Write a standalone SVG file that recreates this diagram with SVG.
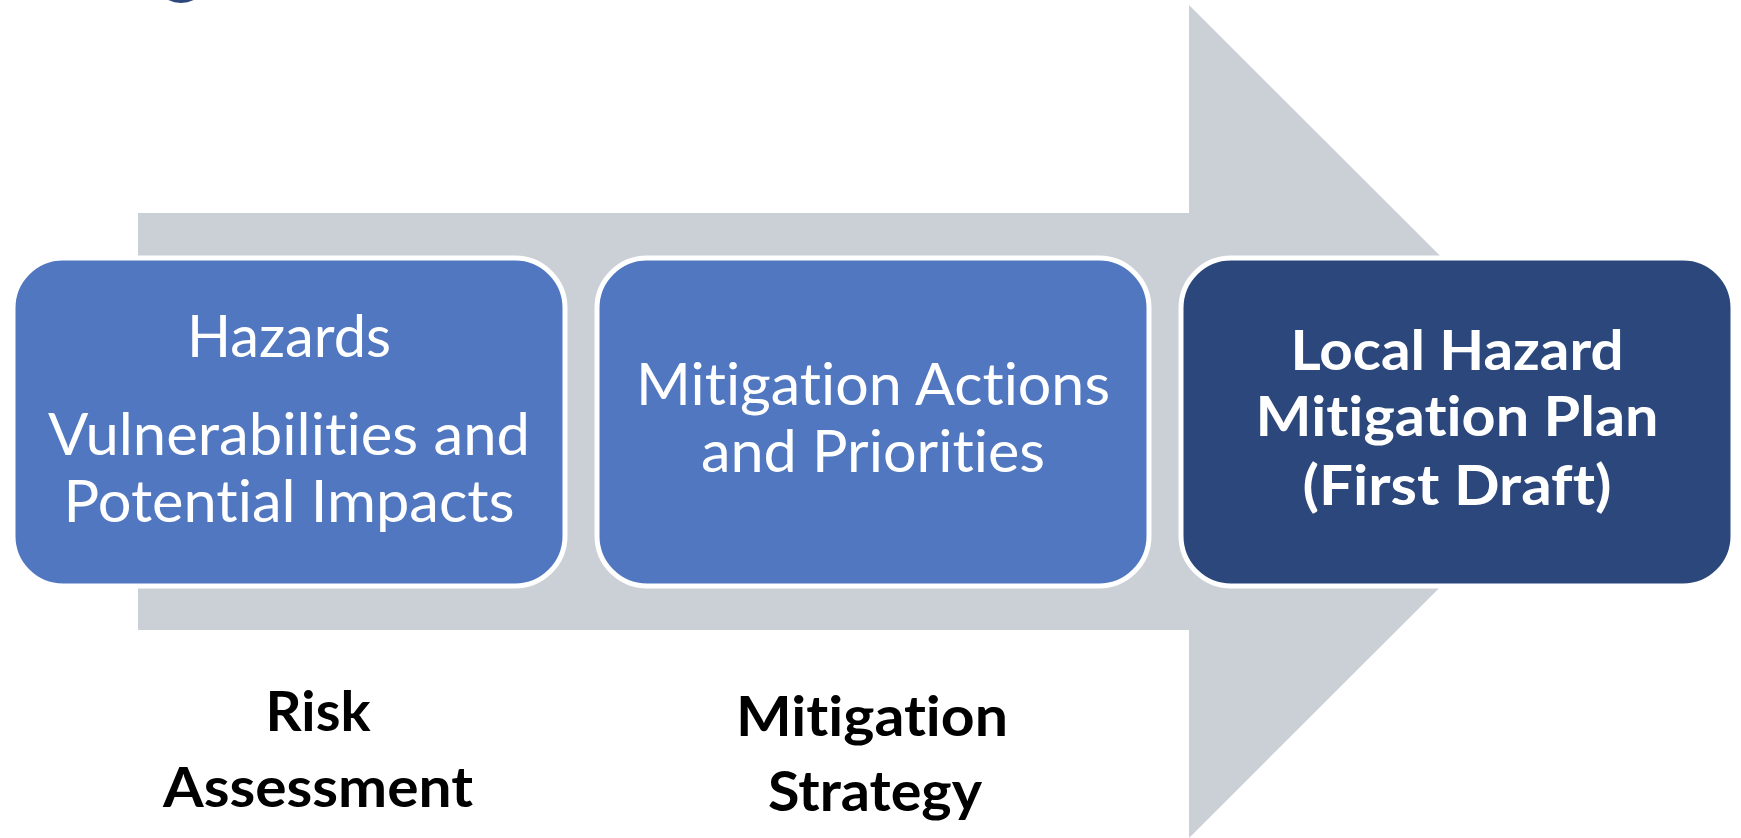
<svg xmlns="http://www.w3.org/2000/svg" width="1741" height="838" viewBox="0 0 1741 838">
<style>
.box{stroke:#FFFFFF;stroke-width:5}
.b1{fill:#5077C0}
.b3{fill:#2B477C}
text{font-family:Lato,"Open Sans","Liberation Sans",sans-serif;text-anchor:middle;font-variant-ligatures:none;font-feature-settings:"liga" 0,"clig" 0}
.t{fill:#FFFFFF;font-size:58px}
.tb{fill:#FFFFFF;font-size:56px;font-weight:bold}
.lab{fill:#000000;font-size:56px;font-weight:bold}
</style>
<rect width="1741" height="838" fill="#FFFFFF"/>
<ellipse cx="181" cy="-6" rx="17" ry="9" fill="#2B477C"/>
<g id="connectors">
<polygon points="138,213 1189,213 1189,5 1606,421.5 1189,838 1189,630 138,630" fill="#CBCFD6"/>
</g>
<g id="node-risk">
<rect class="box b1" x="13" y="258" width="552" height="328" rx="50"/>
<text class="t" x="289" y="357" textLength="204" lengthAdjust="spacingAndGlyphs">Hazards</text>
<text class="t" x="289" y="455" textLength="482" lengthAdjust="spacingAndGlyphs">Vulnerabilities and</text>
<text class="t" x="289" y="522" textLength="451" lengthAdjust="spacingAndGlyphs">Potential Impacts</text>
</g>
<g id="node-strategy">
<rect class="box b1" x="597" y="258" width="552" height="328" rx="50"/>
<text class="t" x="873" y="405" textLength="474" lengthAdjust="spacingAndGlyphs">Mitigation Actions</text>
<text class="t" x="873" y="472" textLength="344" lengthAdjust="spacingAndGlyphs">and Priorities</text>
</g>
<g id="node-plan">
<rect class="box b3" x="1181" y="258" width="552" height="328" rx="50"/>
<text class="tb" x="1457" y="370" textLength="333" lengthAdjust="spacingAndGlyphs">Local Hazard</text>
<text class="tb" x="1457" y="436" textLength="403" lengthAdjust="spacingAndGlyphs">Mitigation Plan</text>
<text class="tb" x="1457" y="505" textLength="309" lengthAdjust="spacingAndGlyphs">(First Draft)</text>
</g>
<g id="label-risk">
<text class="lab" x="318" y="731" textLength="105" lengthAdjust="spacingAndGlyphs">Risk</text>
<text class="lab" x="318" y="807" textLength="310" lengthAdjust="spacingAndGlyphs">Assessment</text>
</g>
<g id="label-strategy">
<text class="lab" x="872" y="736" textLength="272" lengthAdjust="spacingAndGlyphs">Mitigation</text>
<text class="lab" x="875" y="811" textLength="214" lengthAdjust="spacingAndGlyphs">Strategy</text>
</g>
</svg>
